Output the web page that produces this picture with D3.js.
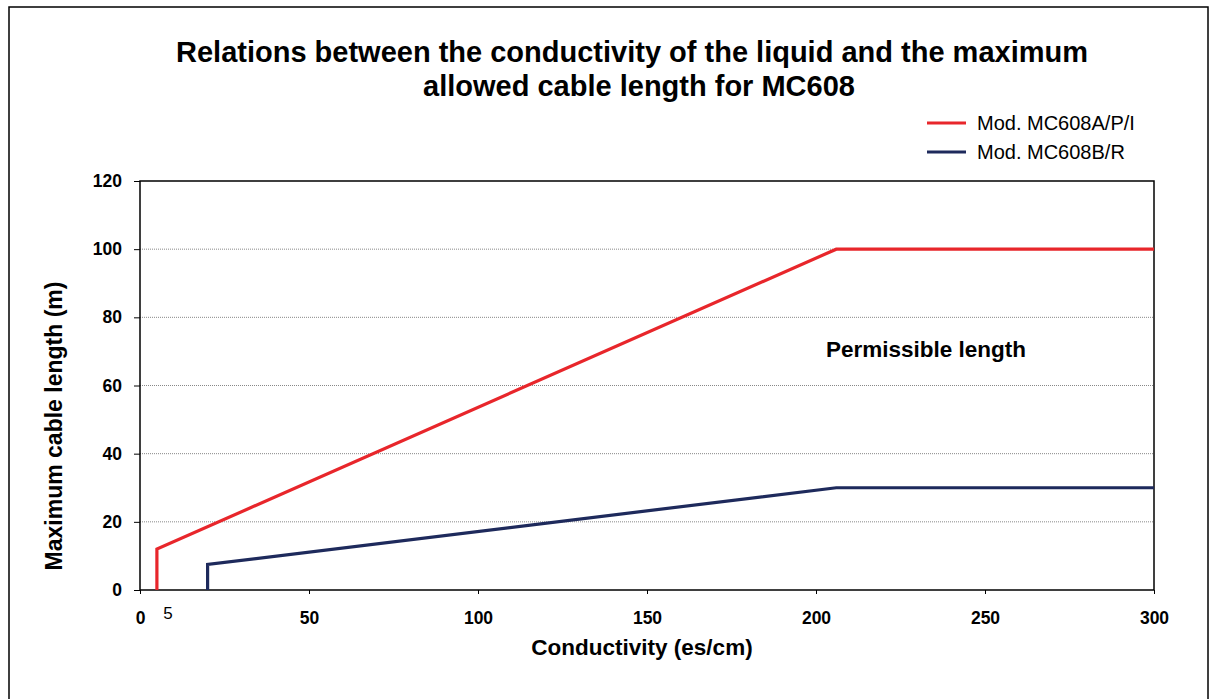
<!DOCTYPE html>
<html>
<head>
<meta charset="utf-8">
<script src="https://cdn.jsdelivr.net/npm/d3@7"></script>
<style>
  body { margin: 0; background: #fff; }
  svg text { font-family: "Liberation Sans", Arial, sans-serif; }
</style>
</head>
<body>
<div id="chart"></div>
<script>
// data
const seriesA = [[5, 0], [5, 12], [206, 100], [300, 100]]
const seriesB = [[20, 0], [20, 7.5], [206, 30], [300, 30]]
const seriesNames = ["Mod. MC608A/P/I", "Mod. MC608B/R"]
const seriesColors = ["#e8262b", "#1e2a5c"]
const xTicks = [0, 50, 100, 150, 200, 250, 300]
const yTicks = [0, 20, 40, 60, 80, 100, 120]

const width = 1214
const height = 699

const svg = d3.select("#chart").append("svg")
  .attr("width", width)
  .attr("height", height)

// outer frame
svg.append("rect")
  .attr("x", 9).attr("y", 7)
  .attr("width", 1199).attr("height", 710)
  .attr("fill", "none")
  .attr("stroke", "#000")
  .attr("stroke-width", 1.5)

const plot = {left: 140, right: 1154, top: 181, bottom: 590}

const xScale = d3.scaleLinear().domain([0, 300]).range([plot.left, plot.right])
const yScale = d3.scaleLinear().domain([0, 120]).range([plot.bottom, plot.top])

// title
const title = svg.append("text")
  .attr("text-anchor", "middle")
  .attr("font-size", 29)
  .attr("font-weight", "bold")
title.append("tspan").attr("x", 632).attr("y", 62)
  .text("Relations between the conductivity of the liquid and the maximum")
title.append("tspan").attr("x", 639).attr("y", 96)
  .text("allowed cable length for MC608")

// gridlines
svg.append("g")
  .selectAll("line")
  .data(yTicks.filter(d => d > 0 && d < 120))
  .enter()
  .append("line")
    .attr("x1", plot.left).attr("x2", plot.right)
    .attr("y1", d => yScale(d)).attr("y2", d => yScale(d))
    .attr("stroke", "#888")
    .attr("stroke-width", 1)
    .attr("stroke-dasharray", "1,1")

// plot box
svg.append("rect")
  .attr("x", plot.left).attr("y", plot.top)
  .attr("width", plot.right - plot.left).attr("height", plot.bottom - plot.top)
  .attr("fill", "none")
  .attr("stroke", "#000")
  .attr("stroke-width", 1.5)

// axes
const xAxis = svg.append("g")
  .attr("transform", `translate(0,${plot.bottom})`)
  .call(d3.axisBottom(xScale).tickValues(xTicks).tickSize(4).tickPadding(18))
const yAxis = svg.append("g")
  .attr("transform", `translate(${plot.left},0)`)
  .call(d3.axisLeft(yScale).tickValues(yTicks).tickSize(6).tickPadding(12))

;[xAxis, yAxis].forEach(function(ax) {
  ax.select(".domain").remove()
  ax.selectAll("line").attr("stroke", "#000")
  ax.selectAll("text")
    .attr("font-size", 17.5)
    .attr("font-weight", "bold")
    .attr("font-family", "Liberation Sans, Arial, sans-serif")
    .attr("fill", "#000")
})

// "5" marker under the axis
svg.append("text")
  .attr("x", 168)
  .attr("y", 619)
  .attr("text-anchor", "middle")
  .attr("font-size", 17)
  .text("5")

// lines
const line = d3.line()
  .x(d => xScale(d[0]))
  .y(d => yScale(d[1]))

;[seriesA, seriesB].forEach(function(s, i) {
  svg.append("path")
    .datum(s)
    .attr("d", line)
    .attr("fill", "none")
    .attr("stroke", seriesColors[i])
    .attr("stroke-width", 3.2)
})

// annotation
svg.append("text")
  .attr("x", 926)
  .attr("y", 357)
  .attr("text-anchor", "middle")
  .attr("font-size", 22.5)
  .attr("font-weight", "bold")
  .text("Permissible length")

// axis titles
svg.append("text")
  .attr("x", 642)
  .attr("y", 655)
  .attr("text-anchor", "middle")
  .attr("font-size", 22.5)
  .attr("font-weight", "bold")
  .text("Conductivity (es/cm)")

svg.append("text")
  .attr("transform", "translate(62,426) rotate(-90)")
  .attr("text-anchor", "middle")
  .attr("font-size", 23)
  .attr("font-weight", "bold")
  .text("Maximum cable length (m)")

// legend
const legend = svg.append("g")
  .selectAll("g")
  .data(seriesNames)
  .enter()
  .append("g")
    .attr("transform", (d, i) => `translate(927,${123 + i * 29})`)

legend.append("line")
  .attr("x1", 0).attr("x2", 39)
  .attr("stroke", (d, i) => seriesColors[i])
  .attr("stroke-width", 3)

legend.append("text")
  .attr("x", 50)
  .attr("y", 7)
  .attr("font-size", 20)
  .text(d => d)
</script>
</body>
</html>
